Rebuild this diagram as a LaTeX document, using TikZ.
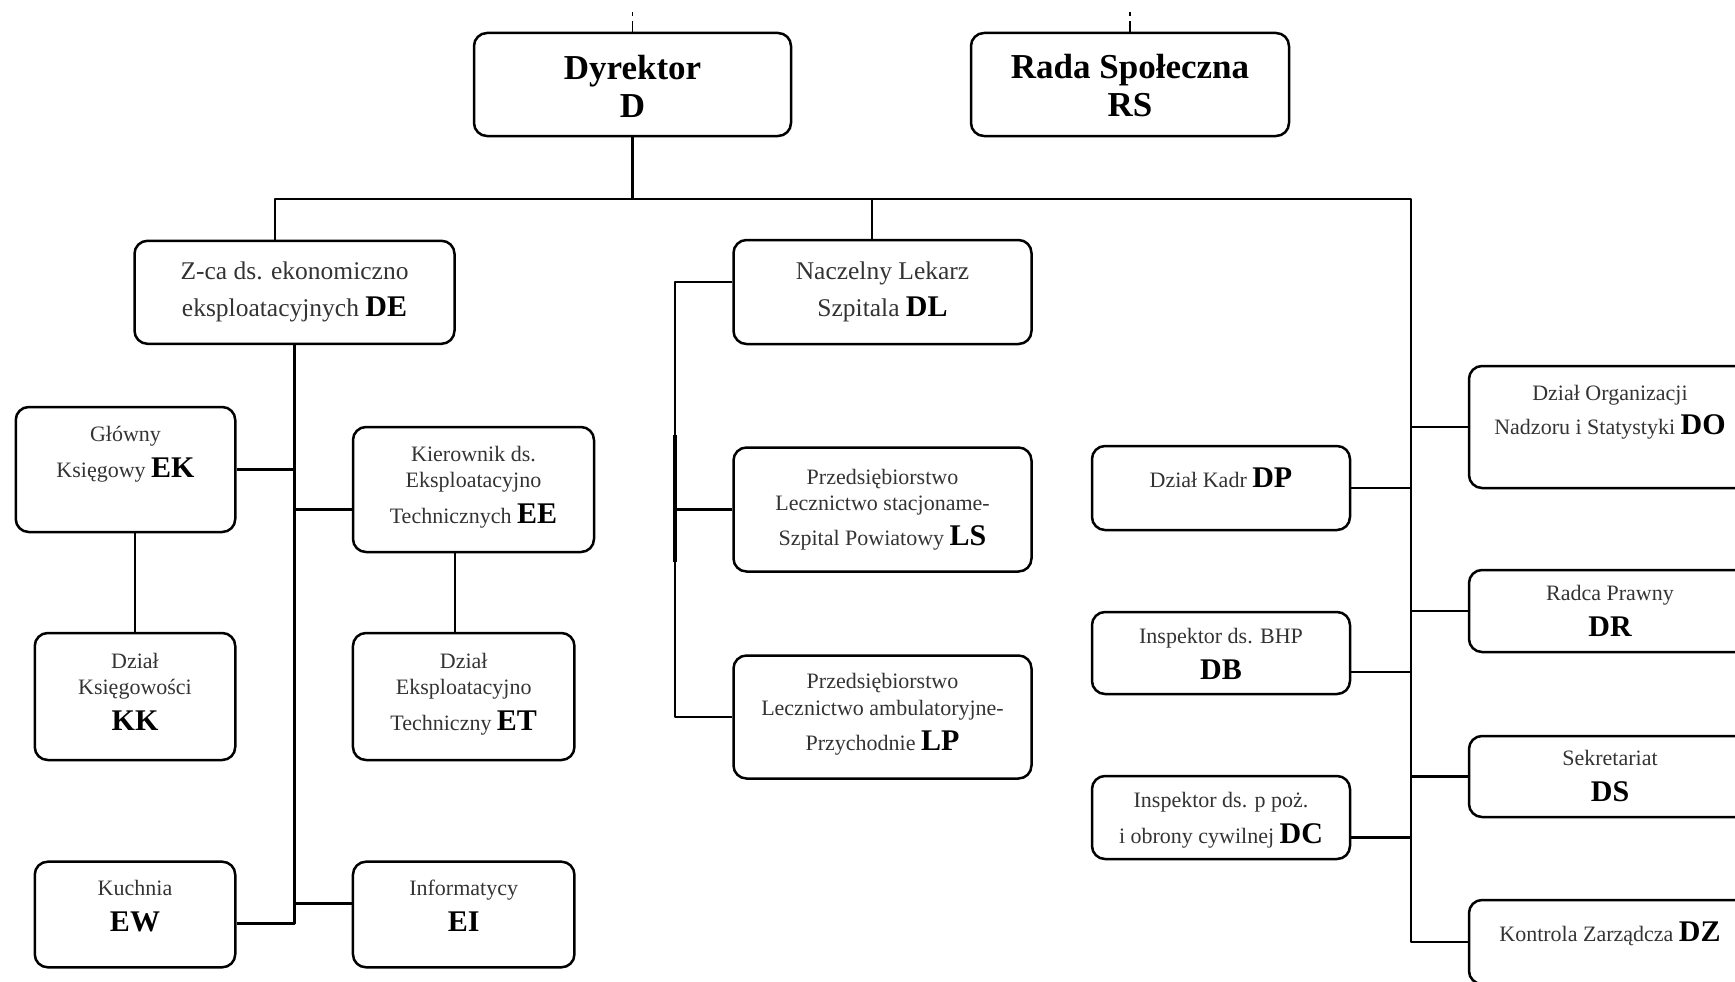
\documentclass[tikz,border=0pt]{standalone}
\usepackage{fontspec}
\setmainfont{Liberation Serif}
\newcommand{\kod}[1]{{\fontsize{30}{30}\selectfont\bfseries\color{black}#1}}

\begin{document}
\begin{tikzpicture}[x=1pt, y=-1pt, line join=round,
    box/.style={draw, line width=2.5pt, rounded corners=13pt, inner sep=0pt},
    wire/.style={line width=2.2pt},
    tick/.style={line width=1.8pt, dash pattern=on 11pt off 5pt on 4pt off 20pt},
    small/.style={align=center, text=black!80, font=\fontsize{22}{26.5}\selectfont},
    medium/.style={align=center, text=black!80, font=\fontsize{25.5}{36.5}\selectfont},
    big/.style={align=center, font=\fontsize{35}{38}\selectfont\bfseries}]
      \useasboundingbox (0,0) rectangle (1735,982);

      % top
      \node[box, minimum width=317pt, minimum height=103pt] (D) at (632.5,84.5) {};
      \node[big] (Dt) at (632.5,86) {Dyrektor\\D};
      \node[box, minimum width=318pt, minimum height=103pt] (RS) at (1130,84.5) {};
      \node[big] (RSt) at (1130,86) {Rada Społeczna\\RS};
      \draw[tick] (D.north) -- ([yshift=22pt]D.north);
      \draw[tick] (RS.north) -- ([yshift=22pt]RS.north);

      % left branch
      \node[box, minimum width=320pt, minimum height=103pt] (DE) at (294.5,292.3) {};
      \node[medium] (DEt) at (294.5,292) {Z-ca ds. ekonomiczno\\eksploatacyjnych \kod{DE}};
      \node[box, minimum width=219.5pt, minimum height=125pt] (EK) at (125.5,469.5) {};
      \node[small] (EKt) at (125.5,454.5) {Główny\\[9.5pt]Księgowy \kod{EK}};
      \node[box, minimum width=241pt, minimum height=125pt] (EE) at (473.5,489.5) {};
      \node[small] (EEt) at (473.5,487) {Kierownik ds.\\Eksploatacyjno\\[9pt]Technicznych \kod{EE}};
      \node[box, minimum width=200.5pt, minimum height=127pt] (KK) at (135,696.5) {};
      \node[small] (KKt) at (135,692) {Dział\\Księgowości\\[9.5pt]\kod{KK}};
      \node[box, minimum width=221.5pt, minimum height=127pt] (ET) at (463.7,696.5) {};
      \node[small] (ETt) at (463.7,694) {Dział\\Eksploatacyjno\\[9.5pt]Techniczny \kod{ET}};
      \node[box, minimum width=200.5pt, minimum height=105.6pt] (EW) at (135,914.5) {};
      \node[small] (EWt) at (135,906) {Kuchnia\\[9.5pt]\kod{EW}};
      \node[box, minimum width=221.5pt, minimum height=105.6pt] (EI) at (463.7,914.5) {};
      \node[small] (EIt) at (463.7,906) {Informatycy\\[9.5pt]\kod{EI}};

      % middle branch
      \node[box, minimum width=298pt, minimum height=104pt] (DL) at (882.5,292) {};
      \node[medium] (DLt) at (882.5,292) {Naczelny Lekarz\\Szpitala \kod{DL}};
      \node[box, minimum width=298pt, minimum height=124pt] (LS) at (882.5,509.5) {};
      \node[small] (LSt) at (882.5,509.5) {Przedsiębiorstwo\\Lecznictwo stacjoname-\\[8.5pt]Szpital Powiatowy \kod{LS}};
      \node[box, minimum width=298pt, minimum height=123pt] (LP) at (882.5,717) {};
      \node[small] (LPt) at (882.5,714) {Przedsiębiorstwo\\Lecznictwo ambulatoryjne-\\[8.5pt]Przychodnie \kod{LP}};

      % right branch
      \node[box, minimum width=282pt, minimum height=122pt] (DO) at (1610,427) {};
      \node[small] (DOt) at (1610,412) {Dział Organizacji\\[7.5pt]Nadzoru i Statystyki \kod{DO}};
      \node[box, minimum width=282pt, minimum height=82pt] (DR) at (1610,611) {};
      \node[small] (DRt) at (1610,611) {Radca Prawny\\[9pt]\kod{DR}};
      \node[box, minimum width=282pt, minimum height=81pt] (DS) at (1610,776.5) {};
      \node[small] (DSt) at (1610,776.5) {Sekretariat\\[9.5pt]\kod{DS}};
      \node[box, minimum width=282pt, minimum height=84pt] (DZ) at (1610,942) {};
      \node[small] (DZt) at (1610,934) {Kontrola Zarządcza \kod{DZ}};
      \node[box, minimum width=258pt, minimum height=84pt] (DP) at (1221,488) {};
      \node[small] (DPt) at (1221,478) {Dział Kadr \kod{DP}};
      \node[box, minimum width=258pt, minimum height=82pt] (DB) at (1221,653) {};
      \node[small] (DBt) at (1221,654) {Inspektor ds. BHP\\[9.5pt]\kod{DB}};
      \node[box, minimum width=258pt, minimum height=83pt] (DC) at (1221,817.5) {};
      \node[small] (DCt) at (1221,820) {Inspektor ds. p poż.\\[9.5pt]i obrony cywilnej \kod{DC}};

      % connectors
      \coordinate (busL) at (275,199);
      \coordinate (busM) at (872,199);
      \coordinate (busR) at (1411,199);
      \coordinate (medL) at (675,0);
      \draw[wire] (D.south) -- (D.south |- busL);
      \draw[wire] (busL |- DE.north) -- (busL) -- (busR) |- (DZ.west);
      \draw[wire] (busM) -- (busM |- DL.north);

      \draw[wire] (DE.south) |- ([yshift=-9pt]EW.east);
      \draw[wire] (EK.east) -- (EK.east -| DE.south);
      \draw[wire] ([yshift=-20pt]EE.west) -- ([yshift=-20pt]EE.west -| DE.south);
      \draw[wire] ([yshift=11pt]EI.west) -- ([yshift=11pt]EI.west -| DE.south);
      \draw[wire] (KK.north) -- (KK.north |- EK.south);
      \draw[wire] ([xshift=-9pt]ET.north) -- ([xshift=-9pt]ET.north |- EE.south);

      \draw[wire] ([yshift=10pt]DL.west) -| (medL |- LP.west) -- (LP.west);
      \draw[wire] (LS.west) -- (LS.west -| medL);
      \draw[wire, line width=3.6pt] (675,435) -- (675,562);

      \draw[wire] (DO.west) -- (DO.west -| busR);
      \draw[wire] (DR.west) -- (DR.west -| busR);
      \draw[wire] (DS.west) -- (DS.west -| busR);
      \draw[wire] (DP.east) -- (DP.east -| busR);
      \draw[wire] ([yshift=-19pt]DB.east) -- ([yshift=-19pt]DB.east -| busR);
      \draw[wire] ([yshift=-20pt]DC.east) -- ([yshift=-20pt]DC.east -| busR);
    \end{tikzpicture}
\end{document}
